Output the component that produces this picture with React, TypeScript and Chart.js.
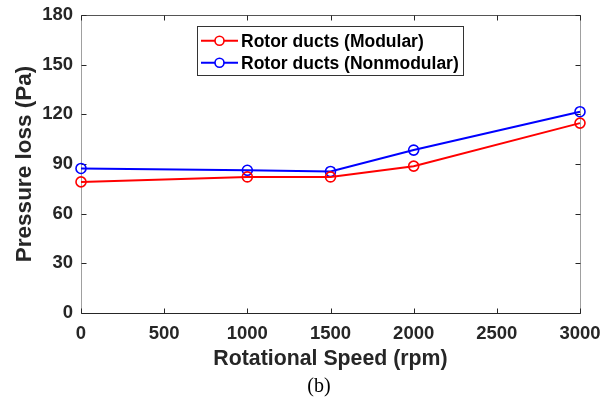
import React, { useEffect, useRef } from 'react';
import { Chart, registerables } from 'chart.js';

Chart.register(...registerables);

const speeds = [0, 1000, 1500, 2000, 3000];
const modular = [79.2, 82.2, 82.2, 88.7, 114.7];
const nonmodular = [87.3, 86.2, 85.5, 98.4, 121.6];
const seriesLabels = ['Rotor ducts (Modular)', 'Rotor ducts (Nonmodular)'];
const seriesColors = ['#ff0000', '#0000ff'];
const xTicks = [0, 500, 1000, 1500, 2000, 2500, 3000];
const yTicks = [0, 30, 60, 90, 120, 150, 180];
const xTitle = 'Rotational Speed (rpm)';
const yTitle = 'Pressure loss (Pa)';
const caption = '(b)';

const FONT = 'Arial, "Liberation Sans", Helvetica, sans-serif';

const matlabPlugin = {
  id: 'matlabAxes',
  beforeDatasetsDraw(chart: any) {
    const { ctx, chartArea: a, scales } = chart;
    const L = Math.round(a.left) + 0.5;
    const R = Math.round(a.right) + 0.5;
    const T = Math.round(a.top) + 0.5;
    const B = Math.round(a.bottom) + 0.5;
    ctx.save();
    ctx.lineWidth = 1;
    ctx.strokeStyle = '#a0a0a0';
    ctx.beginPath();
    ctx.moveTo(L, T); ctx.lineTo(L, B);
    ctx.moveTo(R, T); ctx.lineTo(R, B);
    ctx.stroke();
    ctx.strokeStyle = '#555555';
    ctx.beginPath();
    ctx.moveTo(L, T); ctx.lineTo(R, T);
    ctx.stroke();
    ctx.strokeStyle = '#262626';
    ctx.beginPath();
    ctx.moveTo(L, B); ctx.lineTo(R, B);
    ctx.stroke();
    const tl = 5;
    ctx.strokeStyle = '#262626';
    ctx.beginPath();
    xTicks.forEach((v) => {
      const x = Math.round(scales.x.getPixelForValue(v)) + 0.5;
      ctx.moveTo(x, B); ctx.lineTo(x, B - tl);
      ctx.moveTo(x, T); ctx.lineTo(x, T + tl);
    });
    yTicks.forEach((v) => {
      const y = Math.round(scales.y.getPixelForValue(v)) + 0.5;
      ctx.moveTo(L, y); ctx.lineTo(L + tl, y);
      ctx.moveTo(R, y); ctx.lineTo(R - tl, y);
    });
    ctx.stroke();
    ctx.restore();
  },
  afterDatasetsDraw(chart: any) {
    const { ctx } = chart;
    ctx.save();
    const bx = 197.5, by = 26.5, bw = 266, bh = 49;
    ctx.fillStyle = '#ffffff';
    ctx.fillRect(bx, by, bw, bh);
    ctx.strokeStyle = '#333333';
    ctx.lineWidth = 1;
    ctx.strokeRect(bx, by, bw, bh);
    const rows = [40.7, 62.7];
    seriesLabels.forEach((lab, i) => {
      const y = rows[i];
      ctx.strokeStyle = seriesColors[i];
      ctx.lineWidth = 2;
      ctx.beginPath();
      ctx.moveTo(201, y); ctx.lineTo(238, y);
      ctx.stroke();
      ctx.fillStyle = '#ffffff';
      ctx.lineWidth = 1.6;
      ctx.beginPath();
      ctx.arc(219.5, y, 4.5, 0, Math.PI * 2);
      ctx.fill();
      ctx.stroke();
      ctx.fillStyle = '#000000';
      ctx.font = `bold 17.5px ${FONT}`;
      ctx.textAlign = 'left';
      ctx.textBaseline = 'middle';
      ctx.fillText(lab, 241, y + 1);
    });
    ctx.fillStyle = '#000000';
    ctx.font = '20px "Liberation Serif", "Times New Roman", serif';
    ctx.textAlign = 'center';
    ctx.textBaseline = 'middle';
    ctx.fillText(caption, 319, 387);
    ctx.restore();
  },
};

export default function App() {
  const ref = useRef<HTMLCanvasElement | null>(null);
  useEffect(() => {
    if (!ref.current) return;
    const chart = new Chart(ref.current, {
      type: 'line',
      data: {
        datasets: [modular, nonmodular].map((vals, i) => ({
          label: seriesLabels[i],
          data: speeds.map((x, j) => ({ x, y: vals[j] })),
          borderColor: seriesColors[i],
          backgroundColor: '#ffffff',
          borderWidth: 2,
          pointRadius: 5,
          pointBorderWidth: 1.6,
          pointBackgroundColor: 'rgba(255,255,255,0)',
          pointBorderColor: seriesColors[i],
          tension: 0,
          fill: false,
          clip: false as any,
        })),
      },
      options: {
        responsive: false,
        animation: false,
        devicePixelRatio: 1,
        layout: { padding: { top: 15, right: 33, left: 0, bottom: 0 } },
        plugins: { legend: { display: false }, tooltip: { enabled: false } },
        scales: {
          x: {
            type: 'linear',
            min: 0,
            max: 3000,
            offset: false,
            afterBuildTicks: (s: any) => { s.ticks = xTicks.map((v) => ({ value: v })); },
            afterFit: (s: any) => { s.height = 85; s.paddingLeft = 0; s.paddingRight = 0; s.paddingTop = 0; s.paddingBottom = 0; },
            grid: { display: false, drawTicks: false },
            border: { display: false },
            ticks: {
              color: '#262626',
              padding: 10,
              maxRotation: 0,
              callback: (v: any) => String(v),
              font: { family: FONT, size: 18.5, weight: 'bold' },
            },
            title: {
              display: true,
              text: xTitle,
              color: '#262626',
              padding: { top: 0, bottom: 26.6 },
              font: { family: FONT, size: 21.3, weight: 'bold' },
            },
          },
          y: {
            type: 'linear',
            min: 0,
            max: 180,
            afterBuildTicks: (s: any) => { s.ticks = yTicks.map((v) => ({ value: v })); },
            afterFit: (s: any) => { s.width = 81; s.paddingTop = 0; s.paddingBottom = 0; s.paddingLeft = 0; s.paddingRight = 0; },
            grid: { display: false, drawTicks: false },
            border: { display: false },
            ticks: {
              color: '#262626',
              padding: 8,
              callback: (v: any) => String(v),
              font: { family: FONT, size: 18.5, weight: 'bold' },
            },
            title: {
              display: true,
              text: yTitle,
              color: '#262626',
              padding: { top: 11.5, bottom: 0 },
              font: { family: FONT, size: 22.5, weight: 'bold' },
            },
          },
        },
      },
      plugins: [matlabPlugin],
    });
    return () => chart.destroy();
  }, []);
  return (
    <div style={{ position: 'fixed', left: 0, top: 0, width: 613, height: 398, background: '#fff' }}>
      <canvas ref={ref} width={613} height={398} style={{ display: 'block', width: 613, height: 398 }} />
    </div>
  );
}
